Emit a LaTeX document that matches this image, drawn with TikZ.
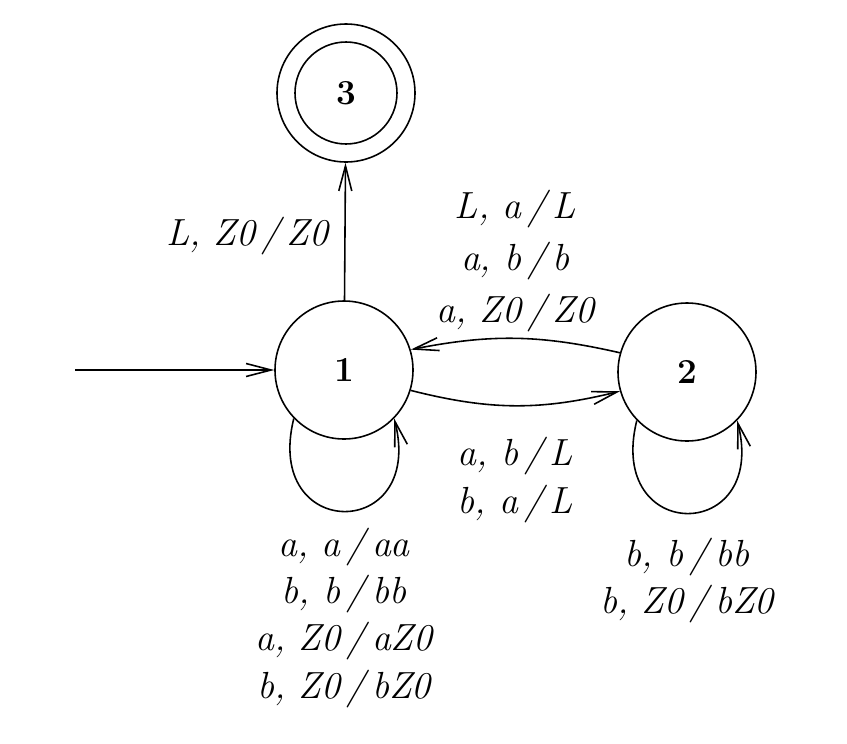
\documentclass[tikz,border=0pt]{standalone}
\usetikzlibrary{arrows.meta}

\begin{document}
\begin{tikzpicture}[
	>={Straight Barb[length=5mm,width=2.6mm]},
	state/.style={circle, draw, line width=0.9pt, minimum size=2.76cm, inner sep=0pt, font=\fontsize{20}{24}\selectfont\bfseries},
	edge/.style={->, line width=0.9pt},
	lbl/.style={align=center, font=\fontsize{21.5}{27}\selectfont\itshape}
	]
				\useasboundingbox (0,0) rectangle (16.94,-14.86);
				\node[state] (q1) at (6.88,-7.40) {1};
				\node[state] (q2) at (13.74,-7.44) {2};
				\node[state] (q3) at (6.92,-1.86) {3};
				\draw[line width=0.9pt] (q3.center) circle (1.02);
				\coordinate (init) at (1.50,-7.40);
				\draw[edge] (init) -- (q1);
				\draw[edge] (q1) -- node[lbl, left=2mm, yshift=-1mm] {L, Z0\,/\,Z0} (q3);
				\draw[edge] (q2.164) to[bend right=12] node[lbl, above, font=\fontsize{21.5}{29.5}\selectfont\itshape] {L, a\,/\,L\\a, b\,/\,b\\a, Z0\,/\,Z0} (q1.17);
				\draw[edge] (q1.-17) to[bend right=14] node[lbl, below=5mm] {a, b\,/\,L\\b, a\,/\,L} (q2.196);
				\draw[edge] (q1.224) to[out=256, in=284, looseness=3.25] node[lbl, below=2mm] {a, a\,/\,aa\\b, b\,/\,bb\\a, Z0\,/\,aZ0\\b, Z0\,/\,bZ0} (q1.316);
				\draw[edge] (q2.224) to[out=256, in=284, looseness=3.25] node[lbl, below=3.6mm] {b, b\,/\,bb\\b, Z0\,/\,bZ0} (q2.316);
			\end{tikzpicture}
\end{document}
